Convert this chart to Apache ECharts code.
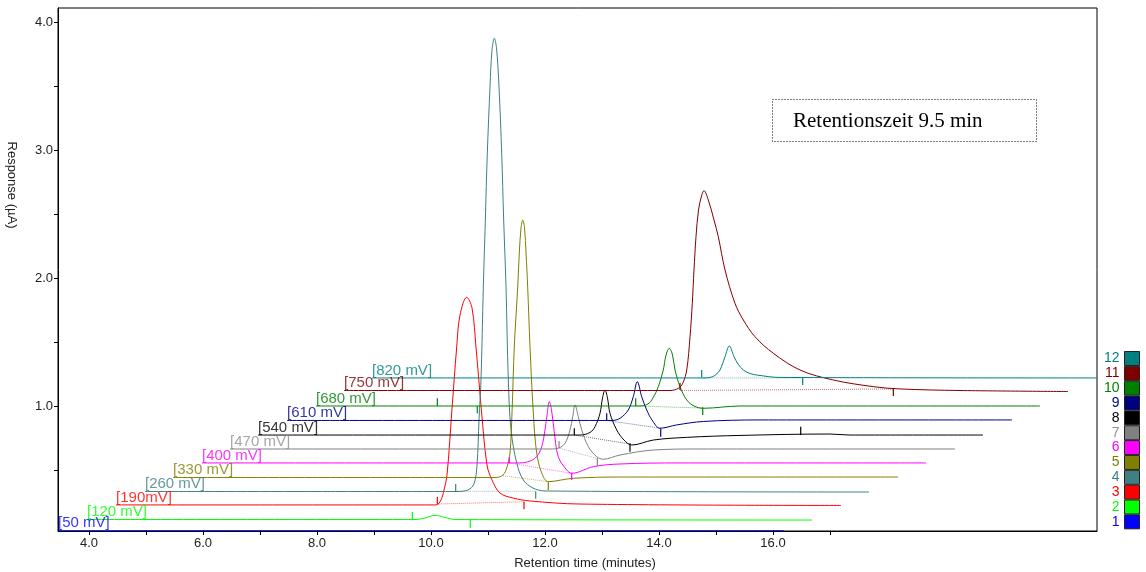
<!DOCTYPE html>
<html>
<head>
<meta charset="utf-8">
<script src="https://cdn.jsdelivr.net/npm/echarts@6/dist/echarts.min.js"></script>
<style>
  html, body { margin: 0; padding: 0; background: #fff; }
  #chart { width: 1146px; height: 572px; }
</style>
</head>
<body>
<div id="chart"></div>
<script>
// trace names, labels and colours (1 = bottom, 12 = top)
const traceNames = ['1', '2', '3', '4', '5', '6', '7', '8', '9', '10', '11', '12'];
const traceLabels = ['[50 mV]', '[120 mV]', '[190mV]', '[260 mV]', '[330 mV]', '[400 mV]',
                     '[470 mV]', '[540 mV]', '[610 mV]', '[680 mV]', '[750 mV]', '[820 mV]'];
const traceColors = ['#0000ff', '#00ff00', '#ff0000', '#408080', '#808000', '#ff00ff',
                     '#808080', '#000000', '#000080', '#008000', '#800000', '#008080'];

// traces: [retention time (shifted), response (offset)]
const trace1 = [[3.456, 0.025], [16.19, 0.025]];
const trace2 = [[3.965, 0.113], [9.719, 0.113], [9.895, 0.125], [10.07, 0.146], [10.246, 0.129],
                [10.421, 0.113], [16.684, 0.109]];
const trace3 = [[4.474, 0.227], [10.088, 0.227], [10.175, 0.266], [10.228, 0.344], [10.281, 0.461],
                [10.363, 0.945], [10.451, 1.461], [10.509, 1.711], [10.626, 1.849], [10.719, 1.766],
                [10.789, 1.461], [10.889, 0.945], [10.982, 0.539], [11.07, 0.422], [11.21, 0.32],
                [11.439, 0.281], [11.737, 0.258], [12.614, 0.234], [17.193, 0.223]];
const trace4 = [[4.982, 0.332], [10.439, 0.332], [10.649, 0.344], [10.754, 0.391], [10.807, 0.539],
                [10.842, 0.891], [10.877, 1.203], [10.918, 1.93], [10.953, 2.453], [10.988, 2.977],
                [11.035, 3.492], [11.07, 3.781], [11.111, 3.873], [11.149, 3.797], [11.193, 3.492],
                [11.24, 2.977], [11.275, 2.453], [11.316, 1.93], [11.356, 1.203], [11.404, 0.813],
                [11.504, 0.555], [11.619, 0.422], [11.789, 0.359], [12.0, 0.336], [17.684, 0.328]];
const trace5 = [[5.474, 0.441], [11.123, 0.441], [11.263, 0.461], [11.333, 0.523], [11.386, 0.633],
                [11.421, 0.945], [11.461, 1.461], [11.521, 1.93], [11.549, 2.195], [11.579, 2.391],
                [11.609, 2.453], [11.64, 2.391], [11.667, 2.195], [11.696, 1.93], [11.737, 1.461],
                [11.795, 0.945], [11.854, 0.633], [11.942, 0.477], [12.058, 0.409], [12.491, 0.435],
                [13.316, 0.445], [18.193, 0.445]];
const trace6 = [[5.982, 0.555], [11.561, 0.555], [11.737, 0.57], [11.854, 0.604], [11.942, 0.682],
                [12.0, 0.813], [12.04, 0.943], [12.075, 1.034], [12.114, 0.969], [12.158, 0.813],
                [12.233, 0.604], [12.381, 0.5], [12.468, 0.474], [12.847, 0.526], [13.316, 0.547],
                [14.368, 0.555], [18.684, 0.555]];
const trace7 = [[6.474, 0.664], [12.088, 0.664], [12.233, 0.67], [12.351, 0.709], [12.439, 0.813],
                [12.486, 0.916], [12.526, 1.008], [12.584, 0.916], [12.644, 0.813], [12.76, 0.682],
                [12.907, 0.604], [13.023, 0.584], [13.316, 0.617], [13.9, 0.656], [14.719, 0.664],
                [19.193, 0.664]];
const trace8 = [[6.965, 0.773], [12.614, 0.773], [12.789, 0.793], [12.877, 0.838], [12.965, 0.943],
                [13.009, 1.063], [13.053, 1.125], [13.096, 1.063], [13.14, 0.943], [13.258, 0.813],
                [13.386, 0.734], [13.521, 0.695], [13.9, 0.734], [14.486, 0.755], [15.421, 0.77],
                [17.0, 0.781], [17.351, 0.773], [19.684, 0.773]];
const trace9 = [[7.474, 0.887], [13.175, 0.887], [13.316, 0.904], [13.461, 0.969], [13.549, 1.073],
                [13.619, 1.19], [13.696, 1.073], [13.784, 0.969], [13.877, 0.891], [14.018, 0.826],
                [14.311, 0.852], [14.777, 0.879], [15.772, 0.891], [20.193, 0.891]];
const trace10 = [[7.982, 1.0], [13.667, 1.0], [13.807, 1.016], [13.895, 1.063], [13.988, 1.151],
                 [14.075, 1.281], [14.123, 1.398], [14.181, 1.451], [14.237, 1.398], [14.281, 1.281],
                 [14.368, 1.151], [14.486, 1.047], [14.614, 1.0], [14.777, 0.982], [15.421, 1.0],
                 [20.684, 1.0]];
const trace11 = [[8.474, 1.121], [14.193, 1.121], [14.339, 1.138], [14.416, 1.177], [14.486, 1.281],
                 [14.544, 1.541], [14.584, 1.802], [14.614, 2.063], [14.649, 2.323], [14.693, 2.531],
                 [14.746, 2.641], [14.789, 2.682], [14.865, 2.609], [14.965, 2.453], [15.04, 2.323],
                 [15.158, 2.063], [15.333, 1.802], [15.479, 1.672], [15.684, 1.541], [16.005, 1.412],
                 [16.474, 1.281], [17.058, 1.203], [17.76, 1.151], [18.228, 1.133], [19.281, 1.121],
                 [21.175, 1.113]];
const trace12 = [[8.965, 1.219], [14.807, 1.219], [14.93, 1.227], [15.0, 1.246], [15.07, 1.281],
                 [15.158, 1.385], [15.233, 1.469], [15.316, 1.385], [15.386, 1.328], [15.479, 1.281],
                 [15.596, 1.254], [15.714, 1.242], [16.123, 1.223], [21.684, 1.219]];
const traces = [trace1, trace2, trace3, trace4, trace5, trace6,
                trace7, trace8, trace9, trace10, trace11, trace12];

// peak start/end marks: [time, from, to, trace index]
const peakTicks = [
  [9.672, 0.109, 0.172, 1], [10.689, 0.109, 0.049, 1],
  [10.111, 0.234, 0.291, 2], [11.632, 0.252, 0.193, 2],
  [10.433, 0.334, 0.391, 3], [11.837, 0.334, 0.276, 3],
  [12.058, 0.409, 0.344, 4],
  [11.374, 0.552, 0.604, 5], [12.468, 0.479, 0.422, 5],
  [12.246, 0.672, 0.727, 6], [12.918, 0.594, 0.534, 6],
  [12.514, 0.773, 0.826, 7], [13.491, 0.709, 0.643, 7], [16.486, 0.773, 0.838, 7],
  [13.082, 0.891, 0.943, 8], [14.03, 0.82, 0.76, 8],
  [10.111, 1.0, 1.06, 9], [10.812, 1.0, 0.943, 9], [13.591, 1.0, 1.06, 9], [14.767, 0.99, 0.93, 9],
  [14.368, 1.125, 1.18, 10], [18.111, 1.138, 1.078, 10],
  [14.749, 1.224, 1.281, 11], [16.521, 1.224, 1.164, 11]
];

// integration baselines: [trace index, t0, y0, t1, y1]
const intBaselines = [
  [2, 10.111, 0.234, 11.632, 0.252],
  [3, 10.433, 0.334, 11.837, 0.334],
  [4, 11.263, 0.455, 12.058, 0.409],
  [5, 11.374, 0.555, 12.468, 0.474],
  [6, 12.233, 0.672, 12.918, 0.59],
  [7, 12.514, 0.773, 13.491, 0.703],
  [8, 13.082, 0.887, 14.03, 0.826],
  [9, 13.591, 1.0, 14.767, 0.984],
  [10, 14.368, 1.121, 18.111, 1.133],
  [11, 14.749, 1.219, 16.521, 1.219]
];

const xTickValues = [4, 5, 6, 7, 8, 9, 10, 11, 12, 13, 14, 15, 16, 17];
const xLabelValues = [4, 6, 8, 10, 12, 14, 16];
const yTickValues = [0.5, 1, 1.5, 2, 2.5, 3, 3.5, 4];
const yLabelValues = [1, 2, 3, 4];

const series = [];
traces.forEach((tr, i) => {
  series.push({
    name: traceNames[i],
    type: 'line',
    data: tr,
    smooth: 0.35,
    showSymbol: false,
    symbol: 'none',
    color: traceColors[i],
    lineStyle: { width: 1, color: traceColors[i] },
    z: 3 + i * 0.01,
    silent: true
  });
});
intBaselines.forEach(b => {
  series.push({
    name: 'base' + b[0],
    type: 'line',
    data: [[b[1], b[2]], [b[3], b[4]]],
    symbol: 'none',
    lineStyle: { width: 1, type: 'dotted', color: traceColors[b[0]], opacity: 0.55 },
    z: 2,
    silent: true
  });
});
series.push({
  name: 'ticks',
  type: 'custom',
  data: peakTicks,
  encode: { x: 0, y: [1, 2] },
  silent: true,
  z: 4,
  renderItem: (params, api) => {
    const p0 = api.coord([api.value(0), api.value(1)]);
    const p1 = api.coord([api.value(0), api.value(2)]);
    return {
      type: 'line',
      shape: { x1: p0[0], y1: p0[1], x2: p1[0], y2: p1[1] },
      style: { stroke: traceColors[api.value(3)], lineWidth: 1.2 }
    };
  }
});
series.push({
  name: 'labels',
  type: 'scatter',
  symbolSize: 0,
  silent: true,
  z: 5,
  itemStyle: { color: 'rgba(0,0,0,0)' },
  data: traces.map((tr, i) => ({
    value: tr[0],
    label: {
      show: true,
      formatter: traceLabels[i],
      color: i === 6 ? '#909090' : traceColors[i],
      position: [0, 0],
      align: 'left',
      verticalAlign: 'bottom',
      fontSize: 15,
      fontFamily: 'Liberation Sans, Arial, sans-serif'
    }
  }))
});

const chart = echarts.init(document.getElementById('chart'));
chart.setOption({
  animation: false,
  backgroundColor: '#fff',
  grid: {
    left: 58, right: 49, top: 8, bottom: 41,
    show: true, borderColor: '#000', borderWidth: 1
  },
  xAxis: {
    type: 'value',
    min: 3.456, max: 21.684,
    axisLine: { show: true, lineStyle: { color: '#000' } },
    splitLine: { show: false },
    axisTick: { show: true, customValues: xTickValues, length: 4, lineStyle: { color: '#000' } },
    axisLabel: {
      customValues: xLabelValues,
      formatter: v => v.toFixed(1),
      color: '#222', fontSize: 13, margin: 6,
      fontFamily: 'Liberation Sans, Arial, sans-serif'
    }
  },
  yAxis: {
    type: 'value',
    min: 0.0234, max: 4.109,
    axisLine: { show: true, lineStyle: { color: '#000' } },
    splitLine: { show: false },
    axisTick: { show: true, customValues: yTickValues, length: 4, lineStyle: { color: '#000' } },
    axisLabel: {
      customValues: yLabelValues,
      formatter: v => v.toFixed(1),
      color: '#222', fontSize: 13, margin: 5,
      fontFamily: 'Liberation Sans, Arial, sans-serif'
    }
  },
  legend: {
    orient: 'vertical',
    right: 6, top: 351,
    padding: 0,
    align: 'right',
    icon: 'rect',
    itemWidth: 15, itemHeight: 14, itemGap: -0.15,
    itemStyle: { borderColor: '#222', borderWidth: 1 },
    selectedMode: false,
    textStyle: { fontSize: 14, lineHeight: 14, fontFamily: 'Liberation Sans, Arial, sans-serif', padding: [0, 0, 0, 0] },
    data: traceNames.slice().reverse().map(n => ({
      name: n,
      textStyle: { color: n === '7' ? '#909090' : traceColors[traceNames.indexOf(n)] }
    }))
  },
  graphic: [
    {
      type: 'rect',
      shape: { x: 772.5, y: 99.5, width: 264, height: 42 },
      style: { fill: 'none', stroke: '#000', lineWidth: 1, lineDash: [1, 2] }
    },
    {
      type: 'text',
      x: 793, y: 121,
      style: {
        text: 'Retentionszeit 9.5 min',
        fontFamily: 'Liberation Serif, Times New Roman, serif',
        fontSize: 21, fill: '#000', verticalAlign: 'middle'
      }
    },
    {
      type: 'text',
      x: 585, y: 563,
      style: {
        text: 'Retention time (minutes)',
        fontFamily: 'Liberation Sans, Arial, sans-serif',
        fontSize: 13, fill: '#222', align: 'center', verticalAlign: 'middle'
      }
    },
    {
      type: 'text',
      x: 12, y: 185,
      rotation: -Math.PI / 2,
      style: {
        text: 'Response (\u00b5A)',
        fontFamily: 'Liberation Sans, Arial, sans-serif',
        fontSize: 13, fill: '#222', align: 'center', verticalAlign: 'middle'
      }
    }
  ],
  series: series
});
</script>
</body>
</html>
